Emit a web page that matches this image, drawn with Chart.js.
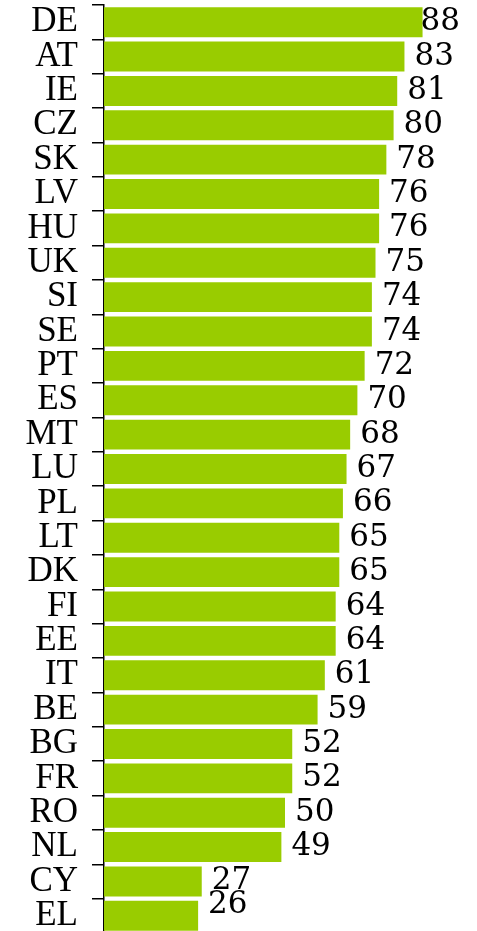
<!DOCTYPE html>
<html><head><meta charset="utf-8">
<script src="https://cdn.jsdelivr.net/npm/chart.js@4/dist/chart.umd.min.js"></script>
<style>html,body{margin:0;padding:0;background:#fff;overflow:hidden}</style>
</head>
<body>
<div style="width:477px;height:931px;overflow:hidden"><canvas id="c" width="477" height="933" style="width:477px;height:933px"></canvas></div>
<script>
const categories = ['DE','AT','IE','CZ','SK','LV','HU','UK','SI','SE','PT','ES','MT','LU','PL','LT','DK','FI','EE','IT','BE','BG','FR','RO','NL','CY','EL'];
const values = [88,83,81,80,78,76,76,75,74,74,72,70,68,67,66,65,65,64,64,61,59,52,52,50,49,27,26];

const valueLabels = {
  id: 'valueLabels',
  afterDatasetsDraw(chart) {
    const ctx = chart.ctx;
    const meta = chart.getDatasetMeta(0);
    ctx.save();
    ctx.font = '31px "DejaVu Serif", Georgia, serif';
    ctx.fillStyle = '#000';
    ctx.textBaseline = 'middle';
    ctx.textAlign = 'left';
    meta.data.forEach((bar, i) => {
      const t = String(values[i]);
      const w = ctx.measureText(t).width;
      const x = Math.min(bar.x + 10, 460 - w);
      const y = Math.min(bar.y, 931 - 26);
      ctx.fillText(t, x, y);
    });
    ctx.restore();
  }
};

new Chart(document.getElementById('c'), {
  type: 'bar',
  data: {
    labels: categories,
    datasets: [{
      data: values,
      backgroundColor: '#99cc00',
      borderWidth: 0,
      barPercentage: 0.87,
      categoryPercentage: 1
    }]
  },
  options: {
    indexAxis: 'y',
    responsive: false,
    animation: false,
    layout: { padding: { top: 5, right: 11, bottom: 0, left: 0 } },
    plugins: { legend: { display: false }, tooltip: { enabled: false } },
    scales: {
      x: { display: false, min: 0, max: 100 },
      y: {
        offset: true,
        afterFit(scale) { scale.width = 104; scale.paddingTop = 0; scale.paddingBottom = 0; },
        border: { display: true, color: '#000', width: 1.5 },
        grid: { display: true, drawOnChartArea: false, drawTicks: true, tickLength: 12, color: '#000', lineWidth: 1.5, offset: true },
        ticks: { color: '#000', padding: 14, font: { family: '"Liberation Serif", "Times New Roman", serif', size: 35 }, autoSkip: false }
      }
    }
  },
  plugins: [valueLabels]
});
</script>
</body></html>
